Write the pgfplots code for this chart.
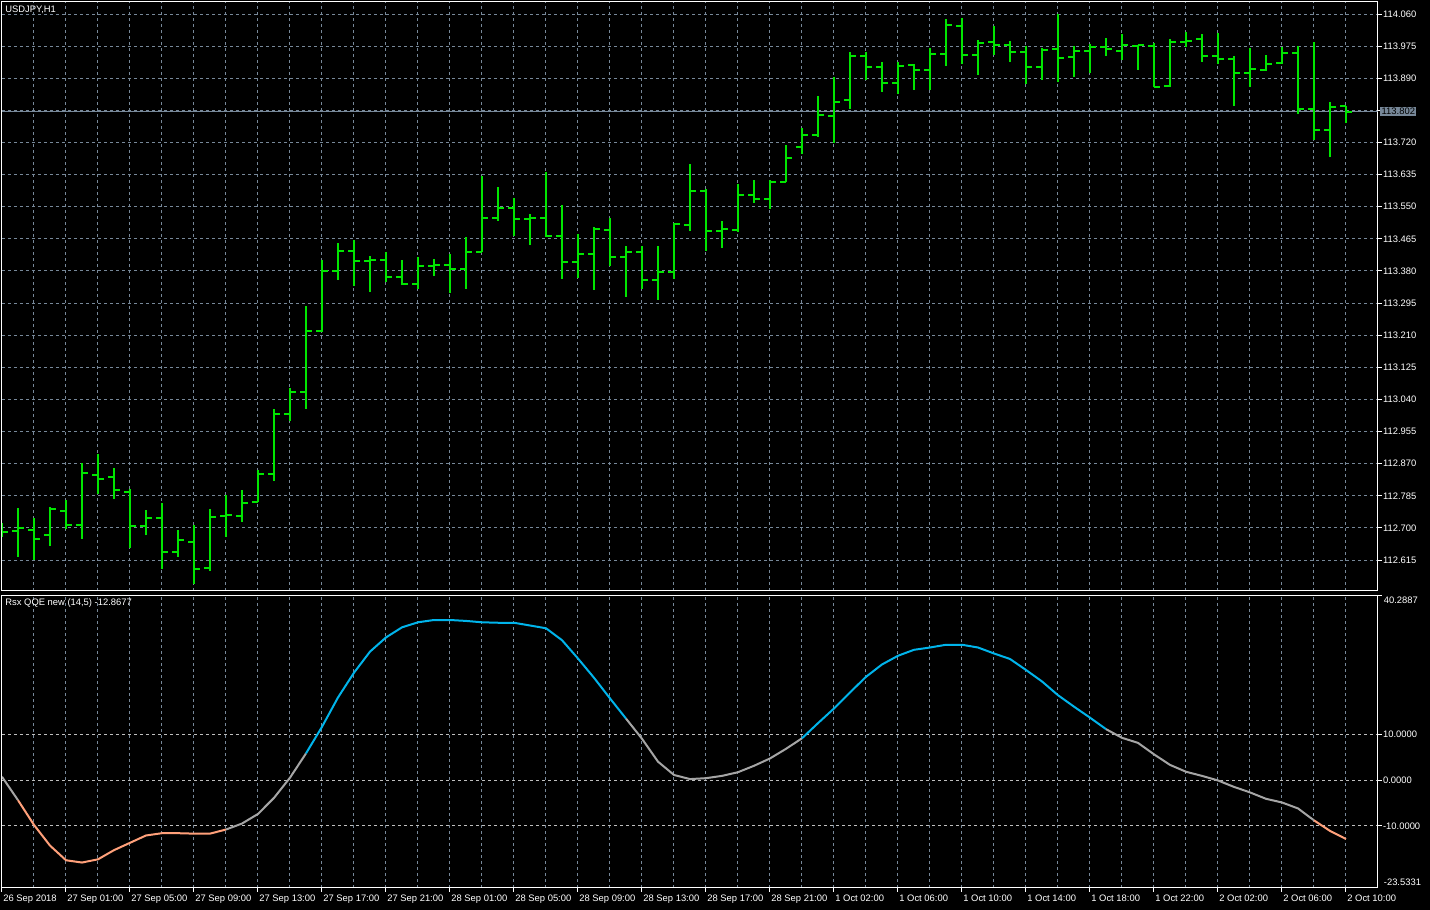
\documentclass[border=0pt]{standalone}
\usepackage{fontspec}
\setmainfont{Liberation Sans}
\usepackage{pgfplots}
\usepackage{pgfplotstable}
\pgfplotsset{compat=1.18}
\definecolor{barcol}{RGB}{0,230,0}
\definecolor{gridcol}{RGB}{119,136,153}
\definecolor{levelcol}{RGB}{190,190,190}
\definecolor{oscblue}{RGB}{0,180,235}
\definecolor{oscgray}{RGB}{165,165,165}
\definecolor{oscsalmon}{RGB}{255,160,122}
\definecolor{pricebox}{RGB}{119,136,153}
\newcommand\tf{\fontsize{4.7}{5.6}\selectfont}

\pgfplotstableread{
x o h l c
0 112.695 112.712 112.676 112.690
1 112.693 112.753 112.624 112.701
2 112.695 112.726 112.615 112.672
3 112.682 112.755 112.653 112.751
4 112.746 112.774 112.696 112.709
5 112.709 112.871 112.672 112.846
6 112.841 112.896 112.790 112.830
7 112.836 112.859 112.777 112.801
8 112.796 112.804 112.648 112.706
9 112.706 112.748 112.680 112.727
10 112.727 112.766 112.592 112.635
11 112.635 112.695 112.624 112.669
12 112.664 112.708 112.552 112.592
13 112.595 112.750 112.587 112.730
14 112.732 112.787 112.676 112.735
15 112.732 112.800 112.717 112.767
16 112.769 112.852 112.768 112.844
17 112.844 113.015 112.825 113.002
18 113.002 113.070 112.984 113.061
19 113.061 113.287 113.016 113.222
20 113.222 113.409 113.219 113.381
21 113.381 113.454 113.357 113.434
22 113.434 113.462 113.340 113.407
23 113.407 113.420 113.325 113.410
24 113.410 113.430 113.352 113.365
25 113.365 113.409 113.344 113.346
26 113.346 113.417 113.333 113.394
27 113.394 113.412 113.368 113.397
28 113.397 113.425 113.323 113.386
29 113.386 113.470 113.333 113.431
30 113.431 113.631 113.431 113.521
31 113.521 113.602 113.513 113.547
32 113.547 113.573 113.473 113.518
33 113.518 113.531 113.450 113.521
34 113.521 113.642 113.471 113.473
35 113.473 113.555 113.360 113.405
36 113.405 113.478 113.362 113.426
37 113.426 113.496 113.330 113.492
38 113.489 113.520 113.394 113.418
39 113.418 113.446 113.312 113.431
40 113.431 113.446 113.333 113.357
41 113.357 113.446 113.304 113.378
42 113.378 113.507 113.359 113.505
43 113.502 113.663 113.487 113.592
44 113.592 113.598 113.434 113.487
45 113.487 113.512 113.442 113.492
46 113.489 113.610 113.484 113.582
47 113.582 113.621 113.561 113.571
48 113.571 113.621 113.545 113.616
49 113.616 113.713 113.616 113.680
50 113.709 113.758 113.690 113.741
51 113.741 113.843 113.735 113.794
52 113.791 113.893 113.719 113.828
53 113.833 113.959 113.809 113.950
54 113.950 113.960 113.886 113.921
55 113.921 113.933 113.854 113.878
56 113.878 113.933 113.849 113.923
57 113.926 113.928 113.860 113.913
58 113.913 113.970 113.860 113.955
59 113.955 114.047 113.923 114.032
60 114.029 114.049 113.929 113.952
61 113.952 113.991 113.899 113.984
62 113.987 114.028 113.952 113.979
63 113.979 113.989 113.934 113.960
64 113.960 113.976 113.876 113.921
65 113.921 113.970 113.886 113.966
66 113.968 114.060 113.879 113.944
67 113.947 113.975 113.894 113.963
68 113.963 113.981 113.905 113.973
69 113.973 113.997 113.950 113.968
70 113.963 114.008 113.939 113.979
71 113.976 113.979 113.913 113.979
72 113.976 113.984 113.866 113.868
73 113.870 113.995 113.868 113.987
74 113.987 114.013 113.972 113.989
75 113.995 114.008 113.934 113.950
76 113.950 114.011 113.929 113.942
77 113.942 113.950 113.817 113.905
78 113.905 113.969 113.868 113.915
79 113.913 113.952 113.910 113.929
80 113.931 113.972 113.929 113.958
81 113.958 113.976 113.796 113.809
82 113.809 113.985 113.727 113.754
83 113.754 113.826 113.681 113.815
84 113.817 113.817 113.771 113.802
}\ohlc

\pgfplotstableread{
x v
0 0.7
1 -4.4
2 -9.8
3 -14.3
4 -17.5
5 -18.0
6 -17.3
7 -15.3
8 -13.7
9 -12.1
10 -11.6
11 -11.6
12 -11.7
13 -11.7
14 -10.8
15 -9.5
16 -7.4
17 -3.9
18 0.5
19 5.8
20 11.6
21 18.0
22 23.4
23 28.0
24 31.1
25 33.3
26 34.4
27 34.9
28 34.9
29 34.7
30 34.4
31 34.3
32 34.3
33 33.7
34 33.1
35 30.5
36 26.5
37 22.3
38 17.8
39 13.4
40 9.0
41 4.0
42 1.1
43 0.2
44 0.4
45 0.9
46 1.7
47 3.1
48 4.7
49 6.8
50 9.1
51 12.4
52 15.6
53 19.1
54 22.5
55 25.2
56 27.1
57 28.4
58 28.9
59 29.5
60 29.5
61 28.9
62 27.6
63 26.4
64 24.0
65 21.5
66 18.5
67 16.0
68 13.6
69 11.1
70 9.2
71 8.1
72 5.6
73 3.3
74 1.8
75 0.9
76 -0.1
77 -1.5
78 -2.7
79 -4.1
80 -4.9
81 -6.2
82 -8.8
83 -11.1
84 -12.87
}\osc

\pgfplotsset{mt/.style={
  scale only axis, width=687.75pt, xmin=0, xmax=85.97,
  axis line style={white, line width=0.5pt},
  grid style={gridcol, line width=0.5pt, dash pattern=on 1.5pt off 1.5pt},
  minor grid style={gridcol, line width=0.5pt, dash pattern=on 1.5pt off 1.5pt},
  tick style={white, line width=0.5pt},
  tick align=outside, major tick length=2pt, minor tick length=0pt,
  ticklabel style={font=\tf, text=white, inner sep=0pt},
  yticklabel pos=right, ytick pos=right,
  yticklabel style={anchor=west, xshift=0.6pt},
}}

\begin{document}
\begin{tikzpicture}[x=1pt,y=1pt]
\fill[black] (0,0) rectangle (715,455);
\path[use as bounding box] (0,0) rectangle (715,455);

\begin{axis}[mt, at={(1pt,159.5pt)}, anchor=south west, height=294.5pt,
  ymin=112.5331, ymax=114.0918,
  xtick={0,2,...,84}, xticklabels={}, xmajorgrids,
  major x tick style={draw=none},
  ytick={112.615,112.700,112.785,112.870,112.955,113.040,113.125,113.210,113.295,113.380,113.465,113.550,113.635,113.720,113.805,113.890,113.975,114.060},
  yticklabels={112.615,112.700,112.785,112.870,112.955,113.040,113.125,113.210,113.295,113.380,113.465,113.550,113.635,113.720,,113.890,113.975,114.060},
  ymajorgrids]
\addplot[pricebox, line width=0.5pt, forget plot] coordinates {(0,113.802) (85.97,113.802)};
\addplot[draw=none, mark=none, forget plot, error bars/.cd, y dir=plus, y explicit, error mark=none,
  error bar style={draw=barcol, line width=1pt, solid}]
  table[x=x, y=l, y error expr=\thisrow{h}-\thisrow{l}] {\ohlc};
\addplot[draw=none, mark=none, forget plot, error bars/.cd, x dir=minus, x fixed=0.375, error mark=none,
  error bar style={draw=barcol, line width=1pt, solid}]
  table[x=x, y=o] {\ohlc};
\addplot[draw=none, mark=none, forget plot, error bars/.cd, x dir=plus, x fixed=0.375, error mark=none,
  error bar style={draw=barcol, line width=1pt, solid}]
  table[x=x, y=c] {\ohlc};
\coordinate (pr) at (axis cs:85.97,113.802);
\end{axis}

\begin{axis}[mt, at={(1pt,11.05pt)}, anchor=south west, height=146.3pt,
  ymin=-23.5331, ymax=40.2887,
  xtick={0,4,...,84}, minor xtick={2,6,...,82}, xmajorgrids, xminorgrids,
  xtick pos=bottom,
  xticklabels={26 Sep 2018,27 Sep 01:00,27 Sep 05:00,27 Sep 09:00,27 Sep 13:00,27 Sep 17:00,27 Sep 21:00,28 Sep 01:00,28 Sep 05:00,28 Sep 09:00,28 Sep 13:00,28 Sep 17:00,28 Sep 21:00,1 Oct 02:00,1 Oct 06:00,1 Oct 10:00,1 Oct 14:00,1 Oct 18:00,1 Oct 22:00,2 Oct 02:00,2 Oct 06:00,2 Oct 10:00},
  xticklabel style={anchor=north west, xshift=0.5pt, yshift=-1.5pt},
  ytick={-10,0,10}, yticklabels={-10.0000,0.0000,10.0000},
  ymajorgrids, y grid style={levelcol, line width=0.5pt, dash pattern=on 1.5pt off 1.5pt}]
\addplot[oscgray, line width=1pt, restrict x to domain=0:1] table[x=x,y=v] {\osc};
\addplot[oscsalmon, line width=1pt, restrict x to domain=1:14] table[x=x,y=v] {\osc};
\addplot[oscgray, line width=1pt, restrict x to domain=14:19] table[x=x,y=v] {\osc};
\addplot[oscblue, line width=1pt, restrict x to domain=19:39] table[x=x,y=v] {\osc};
\addplot[oscgray, line width=1pt, restrict x to domain=39:50] table[x=x,y=v] {\osc};
\addplot[oscblue, line width=1pt, restrict x to domain=50:69] table[x=x,y=v] {\osc};
\addplot[oscgray, line width=1pt, restrict x to domain=69:82] table[x=x,y=v] {\osc};
\addplot[oscsalmon, line width=1pt, restrict x to domain=82:84] table[x=x,y=v] {\osc};
\coordinate (otop) at (rel axis cs:1,1);
\coordinate (obot) at (rel axis cs:1,0);
\end{axis}

\node[fill=pricebox, text=black, font=\tf, inner sep=0.7pt, anchor=west] at ([xshift=1.2pt]pr) {113.802};
\node[anchor=north west, font=\tf, text=white, inner sep=0pt] at ([xshift=3pt,yshift=-0.8pt]otop) {40.2887};
\node[anchor=south west, font=\tf, text=white, inner sep=0pt] at ([xshift=3pt,yshift=0.8pt]obot) {-23.5331};
\draw[white, line width=0.5pt] (otop) -- ++(2pt,0);
\node[anchor=west, font=\tf, text=white, inner sep=0pt] at (2.5,450) {USDJPY,H1};
\node[anchor=west, font=\tf, text=white, inner sep=0pt] at (2.5,153.5) {Rsx QQE new (14,5) -12.8677};
\end{tikzpicture}
\end{document}
